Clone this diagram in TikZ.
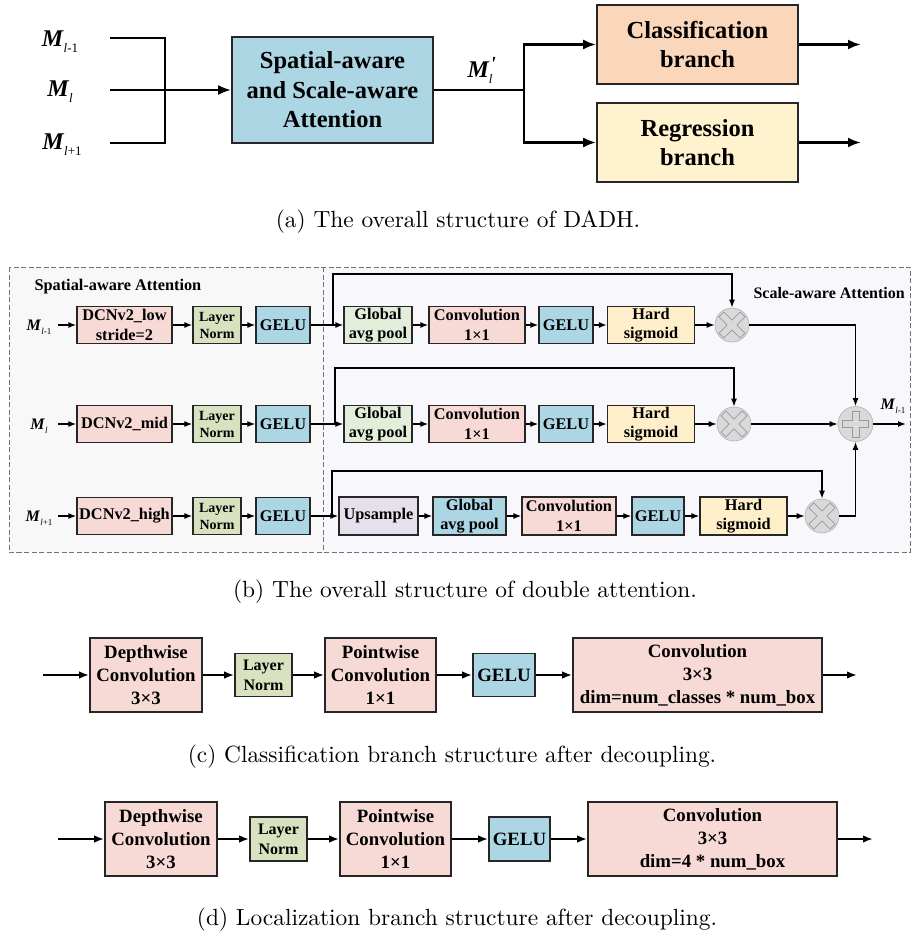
\documentclass[tikz,border=0pt]{standalone}
\usepackage{fontspec}
\newfontfamily\tnr{Liberation Serif}
\newfontfamily\capfont{lmroman10-regular}[Extension=.otf]
\usetikzlibrary{arrows.meta,calc}

\definecolor{cblue}{RGB}{173,214,229}
\definecolor{cpeach}{RGB}{250,214,186}
\definecolor{cyellow}{RGB}{255,242,206}
\definecolor{cpink}{RGB}{247,218,214}
\definecolor{cnorm}{RGB}{216,226,192}
\definecolor{cpool}{RGB}{226,237,218}
\definecolor{csig}{RGB}{254,238,202}
\definecolor{clav}{RGB}{230,224,236}
\definecolor{cbgl}{RGB}{248,248,248}
\definecolor{cbgr}{RGB}{248,248,252}
\definecolor{cdot}{RGB}{217,217,217}

% bold italic feature-map symbol: #1 size of M, #2 size of index, #3 drop, #4 index
\newcommand{\featM}[4]{{\fontsize{#1}{#1}\selectfont\tnr\bfseries\itshape M}\kern0.5pt\raisebox{-#3pt}{\fontsize{#2}{#2}\selectfont\tnr #4}}

\tikzset{
  blk/.style={draw=black!85, line width=1.2pt, inner sep=0pt, align=center, anchor=center},
  thk/.style={line width=1.6pt},
  sz/.style 2 args={minimum width=#1pt, minimum height=#2pt},
  fa/.style={font=\fontsize{24.5}{29.5}\selectfont\tnr\bfseries},
  fb/.style={font=\fontsize{16.3}{19.5}\selectfont\tnr\bfseries},
  fbs/.style={font=\fontsize{14}{17}\selectfont\tnr\bfseries},
  fc/.style={font=\fontsize{18.8}{23}\selectfont\tnr\bfseries},
  fcs/.style={font=\fontsize{16}{20}\selectfont\tnr\bfseries},
  lnA/.style={line width=2.6pt},
  arA/.style={line width=2.6pt, -{Latex[length=13pt,width=10pt]}},
  arB/.style={line width=1.4pt, -{Latex[length=8pt,width=6pt]}},
  arC/.style={line width=2pt, -{Latex[length=10pt,width=7.5pt]}},
  opc/.style={circle, minimum size=34pt, inner sep=0pt, fill=cdot, draw=black!30, line width=0.6pt},
  capt/.style={font=\fontsize{23.4}{28}\selectfont\capfont, anchor=center},
  pics/opcross/.style={code={
    \draw[draw=black!40, line width=0.7pt, fill=cdot]
      (-3.5,-#1) -- (3.5,-#1) -- (3.5,-3.5) -- (#1,-3.5) -- (#1,3.5) -- (3.5,3.5) --
      (3.5,#1) -- (-3.5,#1) -- (-3.5,3.5) -- (-#1,3.5) -- (-#1,-3.5) -- (-3.5,-3.5) -- cycle;}},
}

\begin{document}
\begin{tikzpicture}[x=1pt,y=-1pt]
\useasboundingbox (0,0) rectangle (912,939);
\fill[white] (0,0) rectangle (912,939);

% ---------------- (a) overall structure ----------------
\node[blk, thk, fa, sz={201}{106}, fill=cblue] (saa) at (332.5,90) {Spatial-aware\\and Scale-aware\\Attention};
\node[blk, thk, fa, sz={201}{79}, fill=cpeach] (cls) at (697.5,44.5) {Classification\\branch};
\node[blk, thk, fa, sz={201}{79}, fill=cyellow] (reg) at (697.5,142.5) {Regression\\branch};

\coordinate (a1) at (110,38);
\coordinate (a2) at (110,90);
\coordinate (a3) at (110,143);
\coordinate (fork) at (524,90);
\coordinate (clsout) at (861,44.5);
\coordinate (regout) at (861,142.5);

\node (la1) at (60,42) {\featM{24}{13}{6}{{\itshape l}-1}};
\node (la2) at (60,92) {\featM{24}{13}{6}{{\itshape l}}};
\node (la3) at (62,145) {\featM{24}{13}{6}{{\itshape l}+1}};

\draw[lnA] (a1) -- (165,38) -- (165,143) -- (a3);
\draw[arA] (a2) -- (saa);
\draw[lnA] (saa.east) -- (fork);
\draw[arA] (fork) |- (cls.west);
\draw[arA] (fork) |- (reg.west);
\draw[arA] (cls.east) -- (clsout);
\draw[arA] (reg.east) -- (regout);
\node (lmp) at (480,70) {{\fontsize{24}{24}\selectfont\tnr\bfseries\itshape M}\rlap{\raisebox{7pt}{\fontsize{20}{20}\selectfont\tnr\bfseries\itshape\kern1.5pt'}}\raisebox{-6pt}{\fontsize{13}{13}\selectfont\tnr\itshape l}};

\node[capt] (capa) at (458,222) {(a) The overall structure of DADH.};

% ---------------- (b) double attention ----------------
\fill[cbgl] (9,267) rectangle (323,552);
\fill[cbgr] (323,267) rectangle (910,552);
\draw[black!55, line width=1pt, dash pattern=on 5pt off 2.5pt] (9,267) rectangle (910,552);
\draw[black!55, line width=1pt, dash pattern=on 5pt off 2.5pt] (323,267) -- (323,552);

\node[fb, anchor=west] (tsp) at (31,287) {Spatial-aware Attention};
\node[fb, anchor=west, font=\fontsize{16}{19.5}\selectfont\tnr\bfseries] (tsc) at (750,293) {Scale-aware Attention};

% spatial-aware part
\foreach \r/\y/\t in {1/325/{DCNv2\_low\\stride=2}, 2/424/{DCNv2\_mid}, 3/516/{DCNv2\_high}} {
  \node[blk, fb, sz={95}{37}, fill=cpink] (dcn\r) at (124.5,\y) {\t};
  \node[blk, fbs, sz={48}{37}, fill=cnorm] (ln\r) at (217,\y) {Layer\\Norm};
  \node[blk, fb, sz={54}{37}, fill=cblue] (ge\r) at (283,\y) {GELU};
  \coordinate (bin\r) at (58,\y);
  \draw[arB] (bin\r) -- (dcn\r);
  \draw[arB] (dcn\r) -- (ln\r);
  \draw[arB] (ln\r) -- (ge\r);
}
\node (lb1) at (39,327) {\featM{16}{9}{4}{{\itshape l}-1}};
\node (lb2) at (39,426) {\featM{16}{9}{4}{{\itshape l}}};
\node (lb3) at (39,518) {\featM{16}{9}{4}{{\itshape l}+1}};

% scale-aware part, rows 1 and 2
\foreach \r/\y/\mx/\sx/\ty in {1/325/732/333/274, 2/424/734/335/368} {
  \node[blk, fb, sz={68}{37}, fill=cpool] (gp\r) at (378,\y) {Global\\avg pool};
  \node[blk, fb, sz={96}{37}, fill=cpink] (cv\r) at (477,\y) {Convolution\\1×1};
  \node[blk, fb, sz={54}{37}, fill=cblue] (gs\r) at (566,\y) {GELU};
  \node[blk, fb, sz={87}{37}, fill=csig] (hs\r) at (651,\y) {Hard\\sigmoid};
  \node[opc] (mul\r) at (\mx,\y) {};
  \pic[rotate=45] at (mul\r) {opcross=15};
  \coordinate (sp\r) at (\sx,\y);
  \coordinate (tp\r) at (\sx,\ty);
  \draw[arB] (ge\r) -- (gp\r);
  \draw[arB] (gp\r) -- (cv\r);
  \draw[arB] (cv\r) -- (gs\r);
  \draw[arB] (gs\r) -- (hs\r);
  \draw[arB] (hs\r) -- (mul\r);
  \draw[arB] (sp\r) -- (tp\r) -| (mul\r.north);
}

% scale-aware part, row 3
\node[blk, fb, sz={79}{38}, fill=clav] (up3) at (378.5,516) {Upsample};
\node[blk, fb, sz={73}{38}, fill=cblue] (gp3) at (469.5,516) {Global\\avg pool};
\node[blk, fb, sz={94}{38}, fill=cpink] (cv3) at (569,516) {Convolution\\1×1};
\node[blk, fb, sz={52}{38}, fill=cblue] (gs3) at (658,516) {GELU};
\node[blk, fb, sz={87}{38}, fill=csig] (hs3) at (743.5,516) {Hard\\sigmoid};
\node[opc] (mul3) at (822,516) {};
\pic[rotate=45] at (mul3) {opcross=15};
\coordinate (sp3) at (332,516);
\coordinate (tp3) at (332,471);
\draw[arB] (ge3) -- (up3);
\draw[arB] (up3) -- (gp3);
\draw[arB] (gp3) -- (cv3);
\draw[arB] (cv3) -- (gs3);
\draw[arB] (gs3) -- (hs3);
\draw[arB] (hs3) -- (mul3);
\draw[arB] (sp3) -- (tp3) -| (mul3.north);

% fusion
\node[opc, minimum size=35pt] (plus) at (855.5,424) {};
\pic at (plus) {opcross=13};
\coordinate (bout) at (906,424);
\draw[arB] (mul1.east) -| (plus.north);
\draw[arB] (mul2) -- (plus);
\draw[arB] (mul3.east) -| (plus.south);
\draw[arB] (plus.east) -- (bout);
\node (lbo) at (893,406) {\featM{16}{9}{4}{{\itshape l}-1}};

\node[capt] (capb) at (465,592) {(b) The overall structure of double attention.};

% ---------------- (c) classification branch ----------------
\coordinate (cin) at (43,675);
\coordinate (cout) at (857,675);
\node[blk, thk, fc, sz={112}{74}, fill=cpink] (dwc) at (146,675) {Depthwise\\Convolution\\3×3};
\node[blk, thk, fcs, sz={57}{43}, fill=cnorm] (lnc) at (263.5,675) {Layer\\Norm};
\node[blk, thk, fc, sz={111}{74}, fill=cpink] (pwc) at (380.5,675) {Pointwise\\Convolution\\1×1};
\node[blk, thk, fc, sz={62}{43}, fill=cblue] (gec) at (504,675) {GELU};
\node[blk, thk, fc, sz={249}{74}, fill=cpink] (cvc) at (697.5,675) {Convolution\\3×3\\dim=num\_classes * num\_box};
\draw[arC] (cin) -- (dwc);
\draw[arC] (dwc) -- (lnc);
\draw[arC] (lnc) -- (pwc);
\draw[arC] (pwc) -- (gec);
\draw[arC] (gec) -- (cvc);
\draw[arC] (cvc) -- (cout);

\node[capt] (capc) at (452,757) {(c) Classification branch structure after decoupling.};

% ---------------- (d) localization branch ----------------
\coordinate (din) at (58,839);
\coordinate (dout) at (873,839);
\node[blk, thk, fc, sz={112}{74}, fill=cpink] (dwd) at (161,839) {Depthwise\\Convolution\\3×3};
\node[blk, thk, fcs, sz={57}{44}, fill=cnorm] (lnd) at (278.5,839) {Layer\\Norm};
\node[blk, thk, fc, sz={111}{74}, fill=cpink] (pwd) at (395.5,839) {Pointwise\\Convolution\\1×1};
\node[blk, thk, fc, sz={61}{44}, fill=cblue] (ged) at (519.5,839) {GELU};
\node[blk, thk, fc, sz={249}{74}, fill=cpink] (cvd) at (712.5,839) {Convolution\\3×3\\dim=4 * num\_box};
\draw[arC] (din) -- (dwd);
\draw[arC] (dwd) -- (lnd);
\draw[arC] (lnd) -- (pwd);
\draw[arC] (pwd) -- (ged);
\draw[arC] (ged) -- (cvd);
\draw[arC] (cvd) -- (dout);

\node[capt] (capd) at (457,920) {(d) Localization branch structure after decoupling.};
\end{tikzpicture}
\end{document}
